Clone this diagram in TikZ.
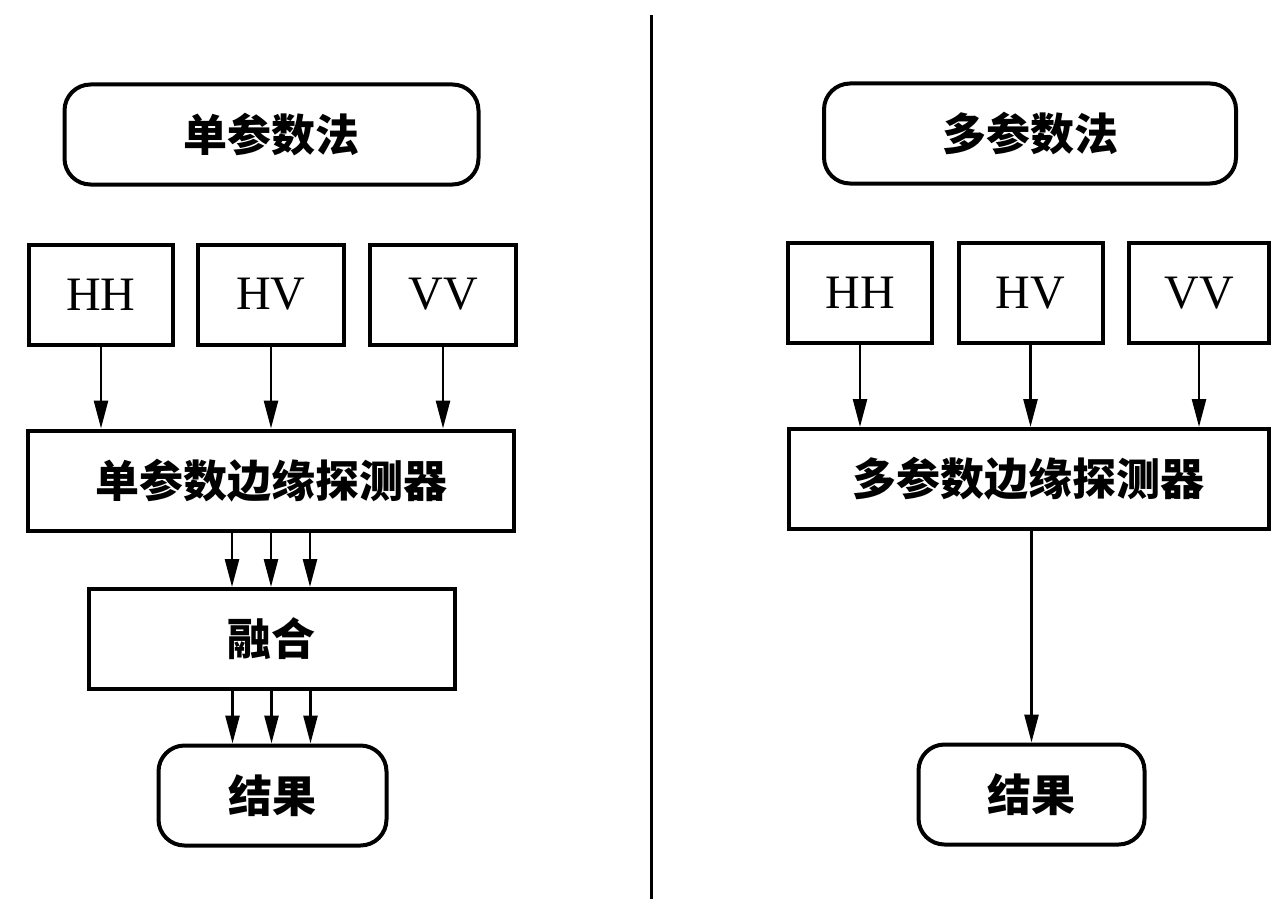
\documentclass[tikz,border=0pt]{standalone}
\usepackage{fontspec}
\setmainfont{Liberation Serif}
\newfontfamily\cjk{Noto Sans CJK SC}
\usetikzlibrary{arrows.meta}
\begin{document}
\begin{tikzpicture}[x=0.5pt,y=-0.5pt,
  box/.style={draw, line width=2pt, inner sep=0pt, minimum height=50pt, font=\fontsize{24}{28}\selectfont},
  rbox/.style={box, rounded corners=13pt},
  cn/.style={font=\cjk\bfseries\fontsize{22}{26}\selectfont},
  arr/.style={line width=1.3pt, -{Triangle[length=14pt,width=7pt]}},
  divider/.style={line width=1.5pt}]
\useasboundingbox (0,0) rectangle (1272,899);
% left column
\node[rbox, cn, minimum width=207pt] (m1) at (271.5,134.5) {单参数法};
\node[box, minimum width=72pt] (hh1) at (101,294.5) {HH};
\node[box, minimum width=73pt] (hv1) at (271,294.5) {HV};
\node[box, minimum width=73pt] (vv1) at (443,294.5) {VV};
\node[box, cn, minimum width=243pt] (d1) at (271,480.5) {单参数边缘探测器};
\node[box, cn, minimum width=183pt] (f1) at (271.5,639) {融合};
\node[rbox, cn, minimum width=114pt] (r1) at (272.5,795.5) {结果};
\draw[arr] (hh1.south) -- (hh1.south |- d1.north);
\draw[arr] (hv1.south) -- (hv1.south |- d1.north);
\draw[arr] (vv1.south) -- (vv1.south |- d1.north);
\foreach \dx in {-39,0,39}{
  \draw[arr] ([xshift=\dx*0.5pt]d1.south) -- ([xshift=\dx*0.5pt]d1.south |- f1.north);
  \draw[arr] ([xshift=\dx*0.5pt]f1.south) -- ([xshift=\dx*0.5pt]f1.south |- r1.north);
}
% divider
\coordinate (dtop) at (651,15);
\coordinate (dbot) at (651,899);
\draw[divider] (dtop) -- (dbot);
% right column
\node[rbox, cn, minimum width=206pt] (m2) at (1030,133.5) {多参数法};
\node[box, minimum width=72pt] (hh2) at (860,293) {HH};
\node[box, minimum width=72pt] (hv2) at (1030.5,293) {HV};
\node[box, minimum width=70pt] (vv2) at (1199,293) {VV};
\node[box, cn, minimum width=240pt] (d2) at (1028.5,479) {多参数边缘探测器};
\node[rbox, cn, minimum width=113pt] (r2) at (1031.5,794.5) {结果};
\draw[arr] (hh2.south) -- (hh2.south |- d2.north);
\draw[arr] (hv2.south) -- (hv2.south |- d2.north);
\draw[arr] (vv2.south) -- (vv2.south |- d2.north);
\draw[arr] (r2.north |- d2.south) -- (r2.north);
\end{tikzpicture}
\end{document}
